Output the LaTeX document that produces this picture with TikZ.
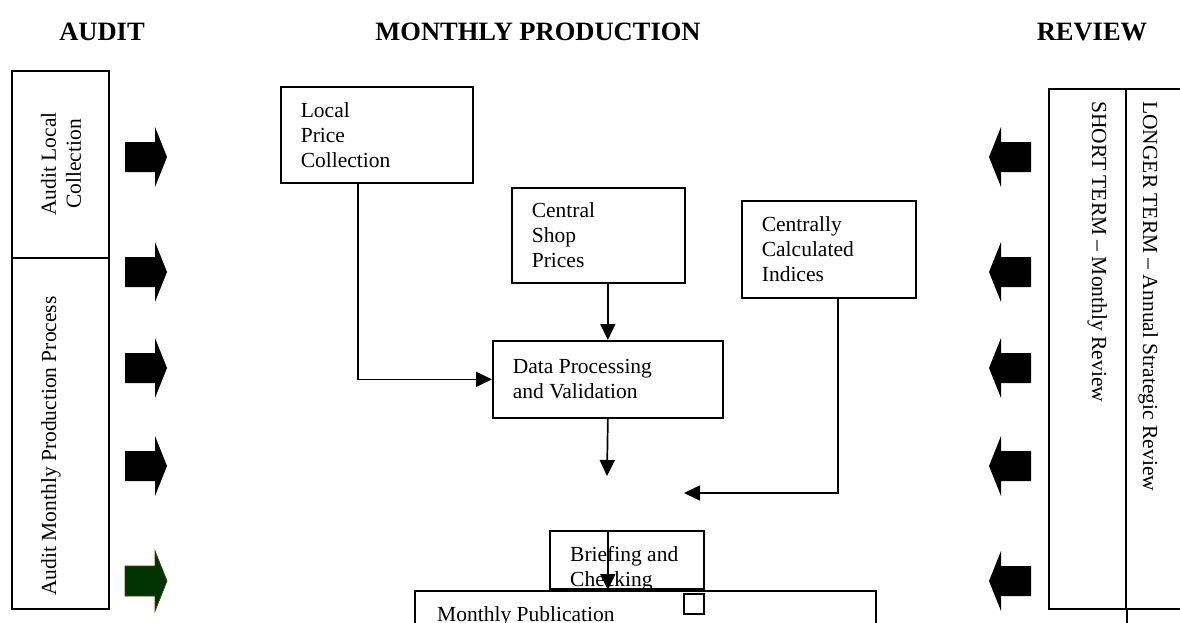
\documentclass[tikz,border=0pt]{standalone}
\usepackage{fontspec}
\setmainfont{Liberation Serif}
\usetikzlibrary{arrows.meta}
\definecolor{dkgreen}{RGB}{0,51,0}
\definecolor{dkbrown}{RGB}{80,60,0}
\begin{document}
\begin{tikzpicture}[x=1pt,y=-1pt,
  every node/.style={font=\fontsize{21.5}{25}\selectfont, inner sep=0pt},
  lw/.style={line width=1.7pt},
  box/.style={draw, lw, align=flush left, inner xsep=20pt, inner ysep=0pt, anchor=north west},
  plainbox/.style={draw, lw, anchor=north west},
  conn/.style={lw, -{Triangle[length=16pt,width=15pt]}},
  ttl/.style={font=\fontsize{26.5}{30}\selectfont\bfseries, anchor=base},
  rblk/.pic={\path[pic actions] (-21,-15) -- (9,-15) -- (9,-30) -- (21,0) -- (9,30) -- (9,15) -- (-21,15) -- cycle;},
  lblk/.pic={\path[pic actions] (21,-15) -- (-9,-15) -- (-9,-30) -- (-21,0) -- (-9,30) -- (-9,15) -- (21,15) -- cycle;},
  ]
\useasboundingbox (0,0) rectangle (1180,623);
\clip (0,0) rectangle (1180,623);

% titles
\node[ttl] (t1) at (102,41) {AUDIT};
\node[ttl] (t2) at (538,41) {MONTHLY PRODUCTION};
\node[ttl] (t3) at (1092,41) {REVIEW};

% left audit column
\node[plainbox, minimum width=97, minimum height=187] (alc) at (11,70) {};
\node[plainbox, minimum width=97, minimum height=351] (amp) at (11,257) {};
\node[rotate=90, align=center] (alct) at (61,164) {Audit Local\\Collection};
\node[rotate=90, anchor=base] (ampt) at (56,446) {Audit Monthly Production Process};

% right review column
\node[plainbox, minimum width=77, minimum height=520] (st) at (1048,88) {};
\node[plainbox, minimum width=100, minimum height=520] (lt) at (1125,88) {};
\draw[lw] (st.south east) -- ++(0,20);
\node[rotate=-90, anchor=base west] (stt) at (1092,101) {SHORT TERM – Monthly Review};
\node[rotate=-90, anchor=base west] (ltt) at (1143,101) {LONGER TERM – Annual Strategic Review};

% block arrows
\foreach \yy in {157,272,368,466} {
  \pic[fill=black] at (146,\yy) {rblk};
}
\pic[fill=dkgreen, draw=dkbrown, line width=0.8pt] at (146,581) {rblk};
\foreach \yy in {157,272,368,466,581} {
  \pic[fill=black] at (1010,\yy) {lblk};
}

% process boxes
\node[box, minimum width=192, minimum height=96, text width=152] (lpc) at (280,86) {Local\\Price\\Collection};
\node[box, minimum width=173, minimum height=95, text width=133] (csp) at (511,187) {Central\\Shop\\Prices};
\node[box, minimum width=174, minimum height=97, text width=134] (cci) at (741,200) {Centrally\\Calculated\\Indices};
\node[box, minimum width=230, minimum height=77, text width=190] (dpv) at (492,340) {Data Processing\\and Validation};
\node[plainbox, minimum width=154, minimum height=58] (brf) at (549,530) {};
\begin{scope}
  \clip (brf.north west) rectangle (brf.south east);
  \node[anchor=north west, align=flush left] (brft) at (570,546) {Briefing and\\Checking};
\end{scope}
\node[plainbox, minimum width=461, minimum height=100] (mp) at (414,590) {};
\node[anchor=north west] (mpt) at (437,606) {Monthly Publication};
\node[plainbox, minimum width=20, minimum height=20] (sq) at (683,593) {};

% connectors
\coordinate (c1) at (607,476);
\coordinate (c2) at (684,493);
\draw[conn] ([xshift=-19pt]lpc.south) |- (dpv.west);
\draw[conn] (csp.south -| dpv.north) -- (dpv.north);
\draw[conn] (dpv.south) -- (c1);
\draw[conn] ([xshift=9pt]cci.south) |- (c2);
\draw[conn] (brf.north -| dpv.south) -- (mp.north -| dpv.south);
\end{tikzpicture}
\end{document}
